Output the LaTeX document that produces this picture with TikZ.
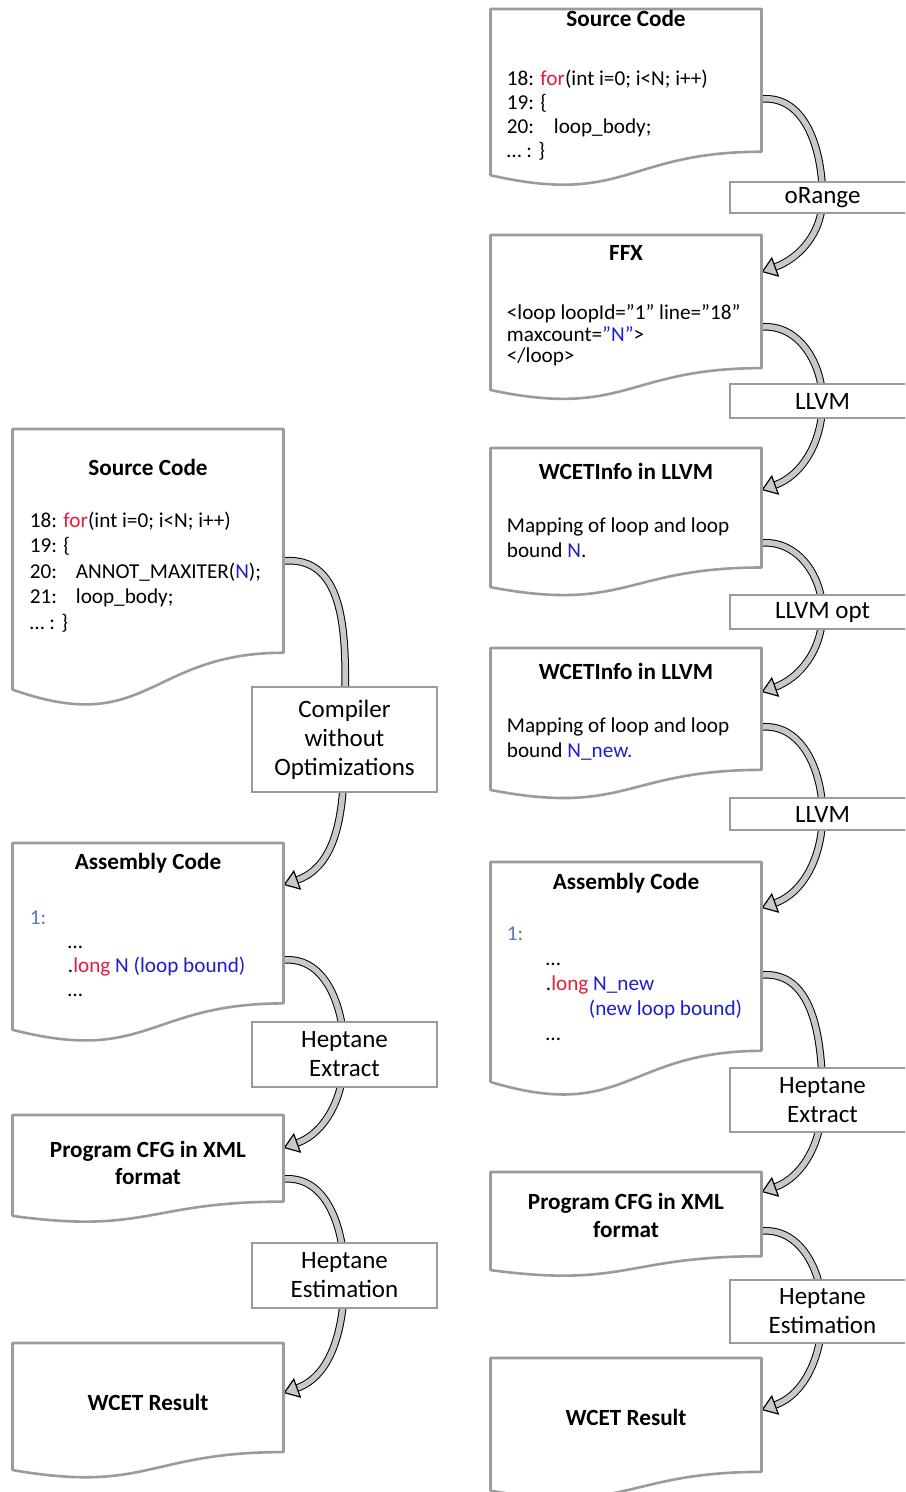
\documentclass[tikz,border=0pt]{standalone}
\usepackage{fontspec}
\setmainfont{Carlito}
\usepackage{tikz}
\usetikzlibrary{calc, positioning, arrows.meta, backgrounds}
\definecolor{kwred}{RGB}{228,30,58}
\definecolor{varblue}{RGB}{30,30,205}
\definecolor{lblblue}{RGB}{80,125,195}
\definecolor{edgegray}{RGB}{155,155,155}
\definecolor{bandgray}{RGB}{200,200,200}

% contorno de documento (base ondulada)
\newcommand{\docedge}[1]{%
  \draw[docline] (#1.north west) -- (#1.north east)
    -- ($(#1.north east)!0.802!(#1.south east)$)
    .. controls ($(#1.north)!0.802!(#1.south)$) and ($(#1.north)!1.107!(#1.south)$)
    .. ($(#1.north west)!0.934!(#1.south west)$) -- cycle;}
\newcommand{\kw}[1]{\textcolor{kwred}{#1}}
\newcommand{\vb}[1]{\textcolor{varblue}{#1}}

\begin{document}
\begin{tikzpicture}[x=0.5pt, y=-0.5pt]
    % Definindo os estilos
    \tikzstyle{docpage} = [rectangle, draw=none, inner sep=0pt, outer sep=0pt, anchor=north, minimum width=135.5pt]
    \tikzstyle{docline} = [draw=edgegray, line width=1.3pt, fill=white, line join=round]
    \tikzstyle{doctitle} = [anchor=base, inner sep=0pt, align=center, font=\fontsize{11.6}{13.5}\selectfont\bfseries]
    \tikzstyle{docbody} = [anchor=base west, inner sep=0pt, align=left, font=\fontsize{10.6}{12.5}\selectfont]
    \tikzstyle{procbox} = [rectangle, draw=edgegray, line width=1.3pt, fill=white, minimum width=92.5pt, inner sep=0pt, align=center, font=\fontsize{12.5}{14.5}\selectfont]
    \tikzstyle{flow} = [draw=black, line width=0.5pt, double=bandgray, double distance=2.8pt, -{Triangle[open, fill=bandgray, length=7.5pt, width=10.5pt, line width=0.6pt]}]

    \useasboundingbox (0,0) rectangle (905,1492);
    \clip (0,0) rectangle (905,1492);

    % Coluna da esquerda (documentos)
    \node [docpage, minimum height=139.5pt] (srcL) at (148,429) {};
    \node [docpage, minimum height=100pt] (asmL) at (148,843) {};
    \node [docpage, minimum height=54pt] (cfgL) at (148,1115) {};
    \node [docpage, minimum height=68pt] (resL) at (148,1343) {};

    % Coluna da direita (documentos)
    \node [docpage, minimum height=89pt] (srcR) at (626,9) {};
    \node [docpage, minimum height=83pt] (ffxR) at (626,235) {};
    \node [docpage, minimum height=74.5pt] (wceA) at (626,448) {};
    \node [docpage, minimum height=76pt] (wceB) at (626,648) {};
    \node [docpage, minimum height=117.75pt] (asmR) at (626,862) {};
    \node [docpage, minimum height=52.5pt] (cfgR) at (626,1172) {};
    \node [docpage, minimum height=71pt] (resR) at (626,1358) {};

    \docedge{srcL} \docedge{asmL} \docedge{cfgL} \docedge{resL}
    \docedge{srcR} \docedge{ffxR} \docedge{wceA} \docedge{wceB}
    \docedge{asmR} \docedge{cfgR} \docedge{resR}

    % Textos da esquerda (base = ultima linha)
    \node [doctitle] (srcLtit) at ($(srcL.north)+(0,46.5)$) {Source Code};
    \node [docbody, font=\fontsize{10.6}{12.75}\selectfont] (srcLtxt) at ($(srcL.north west)+(17,200)$)
        {18: \kw{for}(int i=0; i<N; i++)\\19: \{\\\makebox[23pt][l]{20:}ANNOT\_MAXITER(\vb{N});\\\makebox[23pt][l]{21:}loop\_body;\\\ldots{} : \}};
    \node [doctitle] (asmLtit) at ($(asmL.north)+(0,26.5)$) {Assembly Code};
    \node [docbody, font=\fontsize{10.6}{12}\selectfont] (asmLtxt) at ($(asmL.north west)+(17,153)$)
        {\textcolor{lblblue}{1:}\\\hspace*{19pt}\ldots\\\hspace*{19pt}.\kw{long} \vb{N (loop bound)}\\\hspace*{19pt}\ldots};
    \node [doctitle] (cfgLtit) at ($(cfgL.north)+(0,69.5)$) {Program CFG in XML\\format};
    \node [doctitle] (resLtit) at ($(resL.north)+(0,67.5)$) {WCET Result};

    % Textos da direita
    \node [doctitle] (srcRtit) at ($(srcR.north)+(0,17.5)$) {Source Code};
    \node [docbody, font=\fontsize{10.6}{12}\selectfont] (srcRtxt) at ($(srcR.north west)+(16,149)$)
        {18: \kw{for}(int i=0; i<N; i++)\\19: \{\\\makebox[23.5pt][l]{20:}loop\_body;\\\ldots{} : \}};
    \node [doctitle] (ffxRtit) at ($(ffxR.north)+(0,25.5)$) {FFX};
    \node [docbody, font=\fontsize{10.6}{10.75}\selectfont] (ffxRtxt) at ($(ffxR.north west)+(16,128)$)
        {<loop loopId=”1” line=”18”\\maxcount=\vb{”N”}>\\</loop>};
    \node [doctitle] (wceAtit) at ($(wceA.north)+(0,31.5)$) {WCETInfo in LLVM};
    \node [docbody] (wceAtxt) at ($(wceA.north west)+(16,109)$) {Mapping of loop and loop\\bound \vb{N}.};
    \node [doctitle] (wceBtit) at ($(wceB.north)+(0,31.5)$) {WCETInfo in LLVM};
    \node [docbody] (wceBtxt) at ($(wceB.north west)+(16,109)$) {Mapping of loop and loop\\bound \vb{N\_new.}};
    \node [doctitle] (asmRtit) at ($(asmR.north)+(0,27.5)$) {Assembly Code};
    \node [docbody] (asmRtxt) at ($(asmR.north west)+(16,178)$)
        {\textcolor{lblblue}{1:}\\\hspace*{19.5pt}\ldots\\\hspace*{19.5pt}.\kw{long} \vb{N\_new}\\\hspace*{41pt}\vb{(new loop bound)}\\\hspace*{19.5pt}\ldots};
    \node [doctitle, font=\fontsize{11.6}{14}\selectfont\bfseries] (cfgRtit) at ($(cfgR.north)+(0,65.5)$) {Program CFG in XML\\format};
    \node [doctitle] (resRtit) at ($(resR.north)+(0,67.5)$) {WCET Result};

    % Etapas (caixas)
    \node [procbox, minimum height=52.5pt] (compL) at (344.5,739.5) {Compiler\\without\\Optimizations};
    \node [procbox, minimum height=32.5pt] (hextL) at (344.5,1054.5) {Heptane\\Extract};
    \node [procbox, minimum height=32.5pt] (hestL) at (344.5,1275.5) {Heptane\\Estimation};
    \node [procbox, minimum height=15.5pt] (orange) at (822.5,197.5) {oRange};
    \node [procbox, minimum height=17pt] (llvmA) at (822.5,401) {LLVM};
    \node [procbox, minimum height=17pt] (llvmopt) at (822.5,612) {LLVM opt};
    \node [procbox, minimum height=16pt] (llvmB) at (822.5,814) {LLVM};
    \node [procbox, minimum height=32pt] (hextR) at (822.5,1100) {Heptane\\Extract};
    \node [procbox, minimum height=31.5pt] (hestR) at (822.5,1311.5) {Heptane\\Estimation};

    % Setas curvas (atras das caixas)
    \begin{scope}[on background layer]
    \path [flow] ($(srcL.north east)+(0,132)$) to[out=5, in=90] (compL.center) to[out=-90, in=20] ($(asmL.north east)+(0,42)$);
    \path [flow] ($(asmL.north east)+(0,117)$) to[out=5, in=90] (hextL.center) to[out=-90, in=20] ($(cfgL.north east)+(0,33)$);
    \path [flow] ($(cfgL.north east)+(0,64)$) to[out=5, in=90] (hestL.center) to[out=-90, in=20] ($(resL.north east)+(0,50)$);
    \path [flow] ($(srcR.north east)+(0,90)$) to[out=5, in=90] (orange.center) to[out=-90, in=20] ($(ffxR.north east)+(0,37)$);
    \path [flow] ($(ffxR.north east)+(0,92)$) to[out=5, in=90] (llvmA.center) to[out=-90, in=20] ($(wceA.north east)+(0,42)$);
    \path [flow] ($(wceA.north east)+(0,95)$) to[out=5, in=90] (llvmopt.center) to[out=-90, in=20] ($(wceB.north east)+(0,44)$);
    \path [flow] ($(wceB.north east)+(0,79)$) to[out=5, in=90] (llvmB.center) to[out=-90, in=20] ($(asmR.north east)+(0,46)$);
    \path [flow] ($(asmR.north east)+(0,113)$) to[out=5, in=90] (hextR.center) to[out=-90, in=20] ($(cfgR.north east)+(0,20)$);
    \path [flow] ($(cfgR.north east)+(0,59)$) to[out=5, in=90] (hestR.center) to[out=-90, in=20] ($(resR.north east)+(0,52)$);
    \end{scope}
\end{tikzpicture}
\end{document}
